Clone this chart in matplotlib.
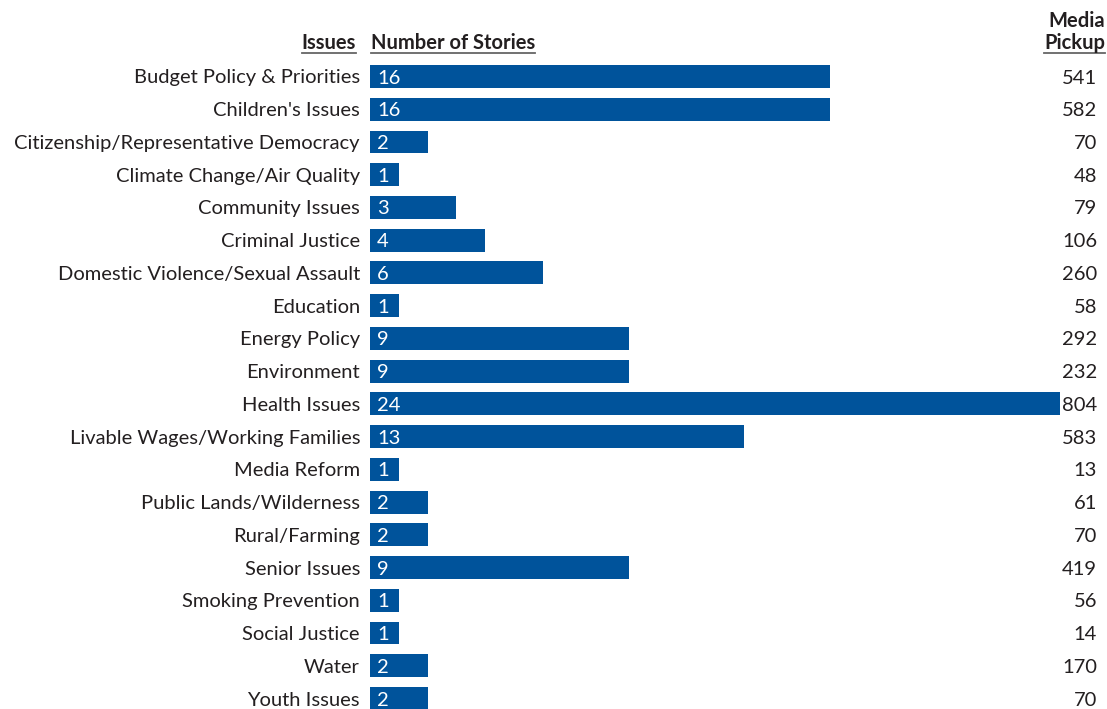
import matplotlib
matplotlib.use("Agg")
import matplotlib.pyplot as plt
from matplotlib.transforms import blended_transform_factory
from matplotlib.lines import Line2D

plt.rcParams['font.family'] = ['Lato', 'DejaVu Sans']

issues = ["Budget Policy & Priorities", "Children's Issues",
          "Citizenship/Representative Democracy", "Climate Change/Air Quality",
          "Community Issues", "Criminal Justice", "Domestic Violence/Sexual Assault",
          "Education", "Energy Policy", "Environment", "Health Issues",
          "Livable Wages/Working Families", "Media Reform", "Public Lands/Wilderness",
          "Rural/Farming", "Senior Issues", "Smoking Prevention", "Social Justice",
          "Water", "Youth Issues"]
stories = [16, 16, 2, 1, 3, 4, 6, 1, 9, 9, 24, 13, 1, 2, 2, 9, 1, 1, 2, 2]
pickup = [541, 582, 70, 48, 79, 106, 260, 58, 292, 232, 804, 583, 13, 61, 70,
          419, 56, 14, 170, 70]

W, H = 1107, 709
fig = plt.figure(figsize=(W / 100, H / 100), dpi=100)
x0, x1 = 370, 1060
ytop, ybot = 76.5, 698.5
ax = fig.add_axes([x0 / W, 1 - ybot / H, (x1 - x0) / W, (ybot - ytop) / H])
ax.set_xlim(0, 24)
ax.set_ylim(len(issues) - 1, 0)
ax.axis('off')

color = '#00539b'
fs = 14.5
ys = list(range(len(issues)))
bars = ax.barh(ys, stories, height=0.70, color=color)
for b in bars:
    b.set_clip_on(False)

tr_fig_x = blended_transform_factory(fig.transFigure, ax.transData)
for y, name, s, p in zip(ys, issues, stories, pickup):
    ax.text(360 / W, y, name, transform=tr_fig_x, ha='right', va='center_baseline',
            fontsize=fs, color='#231f20')
    ax.text(0.25, y, str(s), ha='left', va='center_baseline', fontsize=fs, color='white')
    ax.text(1097 / W, y, str(p), transform=tr_fig_x, ha='right', va='center_baseline',
            fontsize=fs, color='#231f20')

hdr_y = 1 - 41 / H
t1 = fig.text(356 / W, hdr_y, "Issues", ha='right', va='center_baseline', fontsize=fs,
              fontweight='bold', color='#231f20')
t2 = fig.text(371 / W, hdr_y, "Number of Stories", ha='left', va='center_baseline', fontsize=fs,
              fontweight='bold', color='#231f20')
t3 = fig.text(1105 / W, 1 - 19 / H, "Media", ha='right', va='center_baseline', fontsize=fs,
              fontweight='bold', color='#231f20')
t4 = fig.text(1105 / W, hdr_y, "Pickup", ha='right', va='center_baseline', fontsize=fs,
              fontweight='bold', color='#231f20')

fig.canvas.draw()
r = fig.canvas.get_renderer()
for t in (t1, t2, t4):
    bb = t.get_window_extent(r)
    yl = (bb.y0 + 0.5) / H
    fig.add_artist(Line2D([bb.x0 / W, bb.x1 / W], [yl, yl], transform=fig.transFigure,
                          color='#666666', lw=1.3))

fig.savefig("out.png", dpi=100)
